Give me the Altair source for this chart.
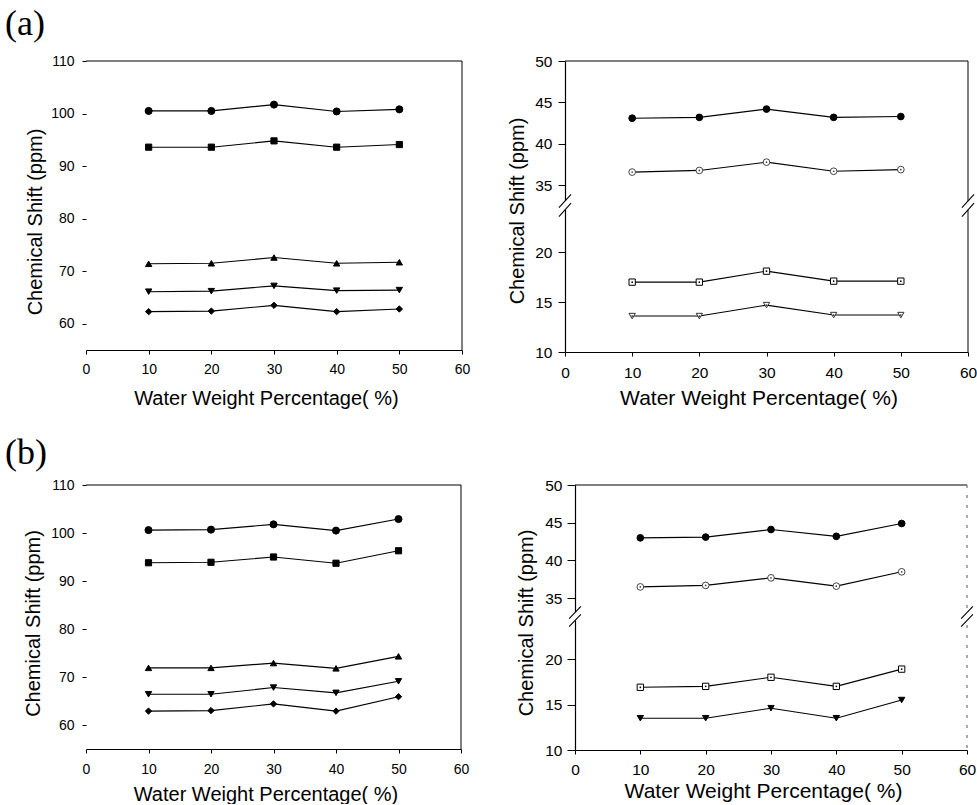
import altair as alt
import pandas as pd

# ---------------- data ----------------
x_pct = [10, 20, 30, 40, 50]
x_tick_values = [0, 10, 20, 30, 40, 50, 60]
left_y_tick_values = [60, 70, 80, 90, 100, 110]
right_y_tick_values = [10, 15, 20, 35, 40, 45, 50]

# (a) left panel
a_left_circle = [100.5, 100.5, 101.7, 100.4, 100.8]
a_left_square = [93.6, 93.6, 94.8, 93.6, 94.1]
a_left_tri_up = [71.4, 71.5, 72.6, 71.5, 71.7]
a_left_tri_down = [66.1, 66.2, 67.2, 66.3, 66.4]
a_left_diamond = [62.3, 62.4, 63.5, 62.3, 62.8]

# (a) right panel
a_right_circle = [43.1, 43.2, 44.2, 43.2, 43.3]
a_right_open_circle = [36.6, 36.8, 37.8, 36.7, 36.9]
a_right_open_square = [17.0, 17.0, 18.1, 17.1, 17.1]
a_right_open_tri = [13.6, 13.6, 14.7, 13.7, 13.7]

# (b) left panel
b_left_circle = [100.6, 100.7, 101.8, 100.5, 102.9]
b_left_square = [93.8, 93.9, 95.0, 93.7, 96.3]
b_left_tri_up = [71.9, 71.9, 72.9, 71.8, 74.3]
b_left_tri_down = [66.4, 66.4, 67.8, 66.7, 69.1]
b_left_diamond = [62.9, 63.0, 64.4, 62.9, 65.9]

# (b) right panel
b_right_circle = [43.0, 43.1, 44.1, 43.2, 44.9]
b_right_open_circle = [36.5, 36.7, 37.7, 36.6, 38.5]
b_right_open_square = [16.9, 17.0, 18.0, 17.0, 18.9]
b_right_tri = [13.5, 13.5, 14.6, 13.5, 15.5]

# axis-break decoration (in data units of the broken axis)
break_edges = [0, 60]
break_half_width = 0.9
break_slash_low = [30.0, 28.0]
break_slash_rise = 3.0
break_gap = [29.5, 31.5]

FONT = "Liberation Sans"
SERIF = "Liberation Serif"


def sdf(vals):
    return pd.DataFrame({"x": x_pct, "y": vals})


def make_panel(series, w, h, y_scale, y_ticks, label_size, x_title_size,
               left_domain, y_tick_size, y_label_pad, y_title_pad,
               x_label_pad, x_title_pad, y_title_shift, broken,
               right_dash, title=None):
    xs = alt.Scale(domain=[0, 60], nice=False, zero=False)
    x_axis = alt.Axis(values=x_tick_values, format="d", grid=False,
                      labelFont=FONT, labelFontSize=label_size, labelColor="black",
                      labelPadding=x_label_pad, labelFlush=False,
                      tickColor="black", tickSize=4, domainColor="black", domainWidth=1.2,
                      title="Water Weight Percentage( %)", titleFont=FONT,
                      titleFontSize=x_title_size, titleFontWeight="normal",
                      titleColor="black", titlePadding=x_title_pad, titleX=w / 2 - 8)
    y_axis = alt.Axis(values=y_ticks, format="d", grid=False,
                      labelFont=FONT, labelFontSize=label_size, labelColor="black",
                      labelPadding=y_label_pad, labelFlush=False,
                      tickColor="black", tickSize=y_tick_size,
                      domain=left_domain, domainColor="black", domainWidth=1.2,
                      title="Chemical Shift (ppm)", titleFont=FONT, titleFontSize=20,
                      titleFontWeight="normal", titleColor="black",
                      titlePadding=y_title_pad, titleY=h / 2 + y_title_shift)
    xe = alt.X("x:Q", scale=xs, axis=x_axis)
    ye = alt.Y("y:Q", scale=y_scale, axis=y_axis)

    frame_df = pd.DataFrame({"k": [0]})
    layers = [
        alt.Chart(frame_df).mark_rule(color="black", strokeWidth=1).encode(
            x=alt.value(0), x2=alt.value(w), y=alt.value(0)),
    ]
    if right_dash:
        layers.append(alt.Chart(frame_df).mark_rule(color="#555", strokeWidth=1, strokeDash=[3, 7]).encode(
            x=alt.value(w), y=alt.value(0), y2=alt.value(h)))
    else:
        layers.append(alt.Chart(frame_df).mark_rule(color="black", strokeWidth=1).encode(
            x=alt.value(w), y=alt.value(0), y2=alt.value(h)))

    if broken:
        gap_df = pd.DataFrame({"x": break_edges,
                               "y": [break_gap[0]] * len(break_edges),
                               "y2": [break_gap[1]] * len(break_edges)})
        layers.append(alt.Chart(gap_df).mark_rule(color="white", strokeWidth=5).encode(
            x=xe, y=ye, y2=alt.Y2("y2:Q")))
        rows = []
        for e in break_edges:
            for lo in break_slash_low:
                rows.append({"x": e - break_half_width, "x2": e + break_half_width,
                             "y": lo, "y2": lo + break_slash_rise})
        slash_df = pd.DataFrame(rows)
        layers.append(alt.Chart(slash_df).mark_rule(color="black", strokeWidth=1.1).encode(
            x=xe, x2=alt.X2("x2:Q"), y=ye, y2=alt.Y2("y2:Q")))

    for vals, shape, fill, stroke, size, dot in series:
        df = sdf(vals)
        layers.append(alt.Chart(df).mark_line(color="black", strokeWidth=1.1).encode(x=xe, y=ye))
        layers.append(alt.Chart(df).mark_point(shape=shape, filled=True, fill=fill, stroke=stroke,
                                               strokeWidth=1, size=size, opacity=1).encode(x=xe, y=ye))
        if dot:
            layers.append(alt.Chart(df).mark_point(shape="circle", filled=True, color=stroke,
                                                   size=3, opacity=1).encode(x=xe, y=ye))
    props = dict(width=w, height=h)
    if title is not None:
        props["title"] = title
    return alt.layer(*layers).properties(**props)


def left_series(c, s, tu, td, d):
    return [
        (c, "circle", "black", "black", 50, False),
        (s, "square", "black", "black", 38, False),
        (tu, "triangle-up", "black", "black", 40, False),
        (td, "triangle-down", "black", "black", 40, False),
        (d, "diamond", "black", "black", 40, False),
    ]


def panel_title(txt, offset):
    return alt.TitleParams(text=txt, anchor="start", frame="group", dx=-81, dy=40, font=SERIF,
                           fontSize=36, fontWeight="normal", color="black",
                           offset=offset, baseline="alphabetic")


def left_scale():
    return alt.Scale(domain=[55, 110], nice=False, zero=False)


def right_scale(h):
    return alt.Scale(domain=[10, 20, 35, 50], range=[h, 0.657 * h, 0.4273 * h, 0],
                     nice=False, zero=False)


A_left = make_panel(left_series(a_left_circle, a_left_square, a_left_tri_up, a_left_tri_down, a_left_diamond),
                    376, 289, left_scale(), left_y_tick_values, 14, 20,
                    False, 4, 8, 5, 8, 12, 16, False, False, panel_title("(a)", 23))

A_right = make_panel([
    (a_right_circle, "circle", "black", "black", 45, False),
    (a_right_open_circle, "circle", "white", "#444", 45, True),
    (a_right_open_square, "square", "white", "black", 40, True),
    (a_right_open_tri, "triangle-down", "white", "#333", 40, True),
], 403, 291, right_scale(291), right_y_tick_values, 15.5, 21,
    True, 7, 6, 7, 9, 7, 4, True, False)

B_left = make_panel(left_series(b_left_circle, b_left_square, b_left_tri_up, b_left_tri_down, b_left_diamond),
                    375, 264, left_scale(), left_y_tick_values, 14, 20,
                    False, 4, 8, 7, 9, 8, 6, False, False, panel_title("(b)", 18))

B_right = make_panel([
    (b_right_circle, "circle", "black", "black", 45, False),
    (b_right_open_circle, "circle", "white", "#444", 45, True),
    (b_right_open_square, "square", "white", "black", 40, True),
    (b_right_tri, "triangle-down", "black", "black", 40, False),
], 392, 265, right_scale(265), right_y_tick_values, 15.5, 21,
    True, 8, 5, 8, 8, 3, 5, True, True)

row_a = alt.hconcat(A_left, A_right, spacing=103, bounds="flush")
row_b = alt.hconcat(B_left, B_right, spacing=114, bounds="flush")

chart = alt.vconcat(row_a, row_b, spacing=26).properties(
    padding={"left": 5, "top": 6, "right": 0, "bottom": 0},
    background="white",
).configure_view(strokeOpacity=0)

chart.save("out.html", embed_options={"renderer": "svg", "actions": False})
